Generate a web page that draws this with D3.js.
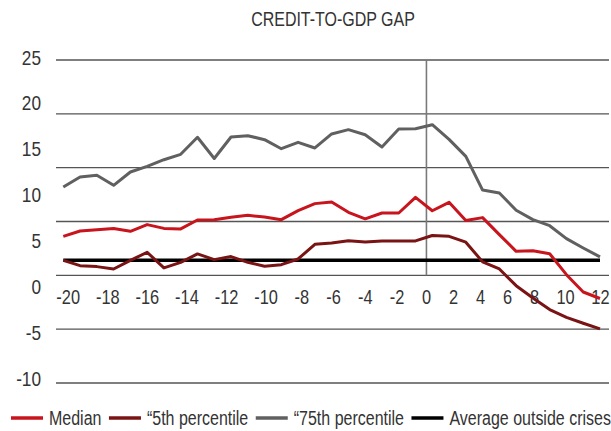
<!DOCTYPE html>
<html>
<head>
<meta charset="utf-8">
<script src="https://cdn.jsdelivr.net/npm/d3@7/dist/d3.min.js"></script>
<style>
body { margin: 0; background: #fff; }
text { font-family: "Liberation Sans", Arial, sans-serif; fill: #333; }
</style>
</head>
<body>
<div id="chart"></div>
<script>
// years around the crisis
var periods = [-20,-19,-18,-17,-16,-15,-14,-13,-12,-11,-10,-9,-8,-7,-6,-5,-4,-3,-2,-1,0,1,2,3,4,5,6,7,8,9,10,11,12];

var median = [3.62,4.12,4.24,4.34,4.09,4.71,4.36,4.31,5.14,5.17,5.39,5.57,5.42,5.17,6.01,6.66,6.82,5.85,5.25,5.79,5.79,7.24,6.0,6.78,5.1,5.36,3.78,2.23,2.29,2.01,0.06,-1.55,-2.15];
var p5 = [1.39,0.9,0.81,0.59,1.39,2.14,0.69,1.21,1.99,1.46,1.74,1.21,0.84,0.99,1.52,2.88,3.01,3.22,3.1,3.2,3.2,3.2,3.7,3.62,3.08,1.25,0.59,-0.96,-2.1,-3.18,-3.9,-4.45,-4.98];
var p75 = [8.21,9.14,9.29,8.36,9.6,10.12,10.74,11.24,12.82,10.85,12.85,12.97,12.6,11.76,12.35,11.83,13.13,13.53,13.06,11.92,13.59,13.62,13.99,12.63,11.05,7.92,7.65,6.04,5.17,4.61,3.41,2.54,1.71];
var avgOutside = 1.39;

var xTickLabels = ["-20","-18","-16","-14","-12","-10","-8","-6","-4","-2","0","2","4","6","8","10","12"];
var yTickLabels = ["25","20","15","10","5","0","-5","-10"];

var seriesNames = ["Median", "\u201c5th percentile", "\u201c75th percentile", "Average outside crises"];
var seriesColors = ["#c8141c", "#7a1414", "#606060", "#000000"];

var width = 611, height = 431;
var squeeze = 0.82; // narrow type, like the original's condensed face

var svg = d3.select("#chart").append("svg")
	.attr("width", width)
	.attr("height", height);

var x = d3.scaleLinear().domain([periods[0], periods[periods.length-1]]).range([63.3, 600]);
var y = d3.scaleLinear().domain([-10, 20]).range([383, 60]);
var yLab = d3.scalePoint().domain(yTickLabels).range([57, 378]);

function place(t, px, py) {
	return t.attr("transform", "translate(" + px + "," + py + ") scale(" + squeeze + ",1)");
}

place(svg.append("text")
	.text("CREDIT-TO-GDP GAP")
	.attr("text-anchor", "middle")
	.style("font-size", "19.5px"), 333, 26);

// gridlines
svg.append("g").selectAll("line")
	.data(y.ticks(6))
	.enter().append("line")
	.attr("x1", 56)
	.attr("x2", 609)
	.attr("y1", function(d){ return y(d); })
	.attr("y2", function(d){ return y(d); })
	.attr("stroke", "#555")
	.attr("stroke-width", 1.3);

// y labels
svg.append("g").selectAll("text")
	.data(yTickLabels)
	.enter().append("text")
	.text(function(d){ return d; })
	.attr("dy", "0.36em")
	.attr("text-anchor", "end")
	.style("font-size", "21px")
	.attr("transform", function(d){ return "translate(41," + yLab(d) + ") scale(" + squeeze + ",1)"; });

// x labels, each sits in a slot a bit wider than its text
var xLabG = svg.append("g");
var centre = 68.2, prevW = null;
var zeroX = 0;
xTickLabels.forEach(function(l){
	var t = xLabG.append("text")
		.text(l)
		.attr("text-anchor", "middle")
		.style("font-size", "20px");
	var w = t.node().getComputedTextLength() * squeeze;
	if (prevW !== null) centre += (prevW + w) / 2 * 0.86 + 19.2;
	place(t, centre, 304);
	if (l === "0") zeroX = centre;
	prevW = w;
});

// crisis marker
svg.append("line")
	.attr("x1", zeroX).attr("x2", zeroX)
	.attr("y1", y(20)).attr("y2", y(0))
	.attr("stroke", "#7a7a7a")
	.attr("stroke-width", 1.6);

var line = d3.line()
	.x(function(d, i){ return x(periods[i]); })
	.y(function(d){ return y(d); });

svg.append("path")
	.datum(periods.map(function(){ return avgOutside; }))
	.attr("d", line)
	.attr("fill", "none")
	.attr("stroke", seriesColors[3])
	.attr("stroke-width", 3.5);

[[p75, 2], [median, 0], [p5, 1]].forEach(function(s){
	svg.append("path")
		.datum(s[0])
		.attr("d", line)
		.attr("fill", "none")
		.attr("stroke", seriesColors[s[1]])
		.attr("stroke-width", 3)
		.attr("stroke-linejoin", "round");
});

// legend
var lg = svg.append("g");
var lx = 11;
seriesNames.forEach(function(n, i){
	lg.append("line")
		.attr("x1", lx).attr("x2", lx + 32)
		.attr("y1", 418).attr("y2", 418)
		.attr("stroke", seriesColors[i])
		.attr("stroke-width", 3.5);
	var t = lg.append("text")
		.text(n)
		.style("font-size", "19.5px");
	place(t, lx + 38, 425);
	lx += 38 + t.node().getComputedTextLength() * squeeze + 7.5;
});
</script>
</body>
</html>
